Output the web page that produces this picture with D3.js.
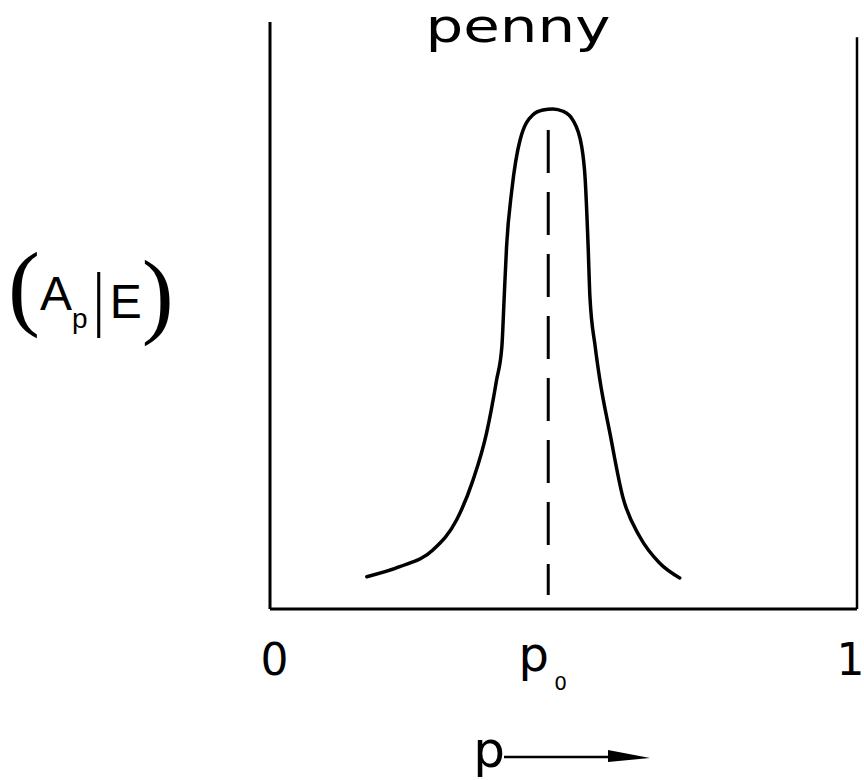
<!DOCTYPE html>
<html>
<head>
<meta charset="utf-8">
<script src="https://cdn.jsdelivr.net/npm/d3@7"></script>
<style>
  html, body { margin: 0; padding: 0; background: #fff; }
  svg { display: block; }
  text { font-family: "DejaVu Sans", "Liberation Sans", sans-serif; fill: #000; }
</style>
</head>
<body>
<svg id="chart" width="864" height="780"></svg>
<script>
// Posterior plausibility (A_p | E) of the penny's probability p, peaked at p0.
const titleText = "penny";
const p0 = 0.474;

// Curve samples: p and the relative height of (A_p | E)
const curveP = [0.165, 0.221, 0.278, 0.318, 0.346, 0.369, 0.386, 0.395, 0.399, 0.403, 0.412, 0.426, 0.448, 0.465, 0.482, 0.499, 0.516, 0.531, 0.537, 0.542, 0.545, 0.554, 0.562, 0.579, 0.601, 0.630, 0.664, 0.698];
const curveH = [0.055, 0.072, 0.101, 0.152, 0.220, 0.300, 0.390, 0.447, 0.532, 0.617, 0.714, 0.799, 0.842, 0.850, 0.852, 0.848, 0.833, 0.788, 0.731, 0.617, 0.532, 0.447, 0.390, 0.300, 0.191, 0.123, 0.078, 0.053];

// Extent of the dashed marker at p0
const markerH = [0.024, 0.816];

// Tick values and their labels on the p axis
const tickValues = [0, p0, 1];
const tickLabels = ["0", "p", "1"];

const svg = d3.select("#chart");
const x = d3.scaleLinear().domain([0, 1]).range([270, 857]);
const y = d3.scaleLinear().domain([0, 1]).range([609, 22]);

// Frame: left side, bottom axis, right side
svg.append("line")
  .attr("x1", x(0)).attr("x2", x(0))
  .attr("y1", y(1)).attr("y2", y(0))
  .attr("stroke", "#000").attr("stroke-width", 3);
svg.append("line")
  .attr("x1", x(1)).attr("x2", x(1))
  .attr("y1", y(0.974)).attr("y2", y(0))
  .attr("stroke", "#000").attr("stroke-width", 2.5);

const xAxis = d3.axisBottom(x)
  .tickValues(tickValues)
  .tickSize(0)
  .tickFormat("");
const axisG = svg.append("g")
  .attr("transform", `translate(0,${y(0)})`)
  .call(xAxis);
axisG.select(".domain")
  .attr("stroke", "#000")
  .attr("stroke-width", 3)
  .attr("d", `M${x(0)},0H${x(1)}`);

// Tick labels
axisG.selectAll(".tick").each(function (d, i) {
  const g = d3.select(this);
  if (i === 1) {
    g.append("text")
      .attr("x", -15).attr("y", 62)
      .style("font-size", "48px")
      .text(tickLabels[i]);
    g.append("text")
      .attr("x", 12).attr("y", 81)
      .style("font-size", "20px")
      .text("0");
  } else if (i === 0) {
    g.append("text")
      .attr("x", 4).attr("y", 66)
      .attr("text-anchor", "middle")
      .style("font-size", "44px")
      .text(tickLabels[i]);
  } else {
    g.append("text")
      .attr("x", 864 - x(1)).attr("y", 66)
      .attr("text-anchor", "end")
      .style("font-size", "44px")
      .text(tickLabels[i]);
  }
});

// Dashed marker at p0
svg.append("line")
  .attr("x1", x(p0)).attr("x2", x(p0))
  .attr("y1", y(markerH[1])).attr("y2", y(markerH[0]))
  .attr("stroke", "#000").attr("stroke-width", 3)
  .attr("stroke-dasharray", "43,19");

// The distribution curve
const pts = curveP.map((p, i) => [p, curveH[i]]);
const line = d3.line()
  .x(d => x(d[0]))
  .y(d => y(d[1]))
  .curve(d3.curveMonotoneX);
svg.append("path")
  .datum(pts)
  .attr("d", line)
  .attr("fill", "none")
  .attr("stroke", "#000")
  .attr("stroke-width", 3.5)
  .attr("stroke-linecap", "round");

// Title
svg.append("text")
  .attr("x", 518).attr("y", 42)
  .attr("text-anchor", "middle")
  .attr("textLength", 185)
  .attr("lengthAdjust", "spacingAndGlyphs")
  .style("font-size", "46px")
  .text(titleText);

// Axis title with arrow
svg.append("text")
  .attr("x", 489).attr("y", 767)
  .attr("text-anchor", "middle")
  .style("font-size", "50px")
  .text("p");
svg.append("line")
  .attr("x1", 504).attr("x2", 632)
  .attr("y1", 757).attr("y2", 757)
  .attr("stroke", "#000").attr("stroke-width", 2.5);
svg.append("path")
  .attr("d", "M608,750 L650,758 L608,762 Z")
  .attr("fill", "#000");

// Vertical axis label (A_p | E), set in one flowing line of text
const serif = "'Liberation Serif', serif";
const sans = "'Liberation Sans', sans-serif";
const yl = svg.append("text")
  .attr("x", 8).attr("y", 318);
yl.append("tspan").style("font-family", serif).style("font-size", "96px").text("(");
yl.append("tspan").attr("dy", -8).style("font-family", sans).style("font-size", "48px").text("A");
yl.append("tspan").attr("dy", 18).style("font-family", sans).style("font-size", "28px").text("p");
yl.append("tspan").attr("dy", -6).style("font-size", "66px").style("font-weight", "200").text("|");
yl.append("tspan").attr("dy", -4).style("font-family", sans).style("font-size", "48px").text("E");
yl.append("tspan").attr("dy", 8).style("font-family", serif).style("font-size", "96px").text(")");
</script>
</body>
</html>
